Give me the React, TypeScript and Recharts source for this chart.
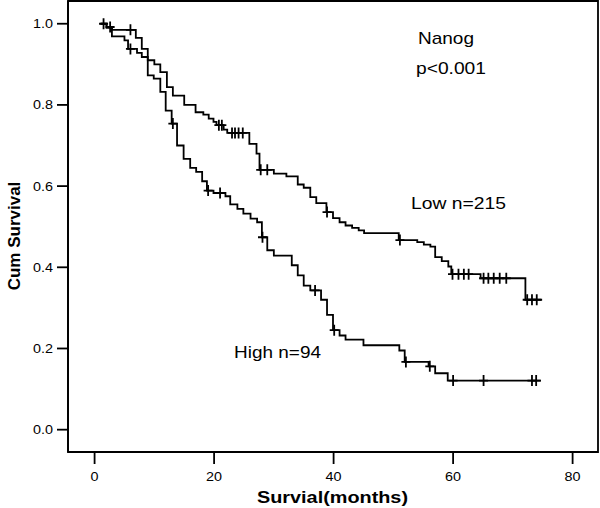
import { LineChart, Line, Scatter, XAxis, YAxis, ReferenceArea, Customized } from "recharts";

// Kaplan-Meier step data (months, cumulative survival)
const lowTimes = [1.0, 2.0, 2.9, 6.9, 7.9, 8.9, 10.0, 11.0, 12.1, 13.1, 15.0, 16.9, 18.2, 19.1, 19.9, 20.4, 21.6, 22.2, 25.9, 27.1, 27.6, 30.0, 32.1, 34.0, 35.0, 36.1, 37.1, 38.8, 39.9, 41.0, 42.0, 43.1, 44.2, 45.1, 50.9, 54.0, 55.1, 56.2, 57.0, 58.1, 59.2, 59.7, 64.6, 72.1, 74.9];
const lowSurv = [1.0, 0.992, 0.985, 0.965, 0.938, 0.91, 0.9, 0.881, 0.844, 0.823, 0.8, 0.782, 0.776, 0.766, 0.758, 0.75, 0.739, 0.731, 0.704, 0.68, 0.64, 0.631, 0.624, 0.604, 0.596, 0.573, 0.558, 0.536, 0.521, 0.511, 0.503, 0.497, 0.491, 0.484, 0.467, 0.462, 0.456, 0.451, 0.425, 0.415, 0.402, 0.383, 0.373, 0.32, 0.32];
const lowCensored = [1.5, 2.6, 6.0, 20.8, 21.3, 23.0, 23.5, 24.1, 24.8, 27.8, 28.9, 38.9, 51.1, 59.9, 60.9, 61.8, 62.6, 65.1, 65.9, 66.8, 67.8, 68.9, 72.4, 73.2, 74.0];

const highTimes = [1.0, 2.0, 2.9, 5.0, 5.6, 7.1, 7.9, 8.9, 9.9, 11.0, 11.9, 12.9, 13.8, 14.9, 16.0, 17.0, 18.0, 18.8, 19.9, 21.9, 22.7, 23.9, 24.9, 26.1, 27.2, 28.0, 28.9, 30.0, 33.0, 34.0, 35.0, 36.1, 37.9, 38.9, 39.9, 41.0, 42.0, 45.0, 51.0, 51.9, 55.9, 57.0, 59.1, 74.7];
const highSurv = [1.0, 0.99, 0.969, 0.959, 0.938, 0.928, 0.918, 0.873, 0.865, 0.832, 0.786, 0.754, 0.7, 0.667, 0.645, 0.635, 0.612, 0.589, 0.583, 0.575, 0.555, 0.544, 0.532, 0.52, 0.511, 0.474, 0.442, 0.429, 0.405, 0.38, 0.355, 0.343, 0.32, 0.283, 0.245, 0.232, 0.222, 0.208, 0.195, 0.167, 0.156, 0.139, 0.121, 0.121];
const highCensored = [6.0, 13.1, 19.0, 21.0, 28.1, 36.9, 40.1, 52.1, 56.1, 60.0, 65.1, 73.2, 73.9];

const xTicks = [0, 20, 40, 60, 80];
const yTicks = [0, 0.2, 0.4, 0.6, 0.8, 1.0];

const FONT = "Liberation Sans, Arial, Helvetica, sans-serif";

const toSteps = (times: number[], surv: number[]) =>
  times.map((t, i) => ({ t, s: surv[i] }));

const survAt = (times: number[], surv: number[], t: number) => {
  let v = surv[0];
  times.forEach((tt, i) => {
    if (tt <= t) v = surv[i];
  });
  return v;
};

const lowSteps = toSteps(lowTimes, lowSurv);
const highSteps = toSteps(highTimes, highSurv);
const lowMarks = lowCensored.map((t) => ({ t, s: survAt(lowTimes, lowSurv, t) }));
const highMarks = highCensored.map((t) => ({ t, s: survAt(highTimes, highSurv, t) }));

const CensorMark = (props: any) => {
  const { cx, cy } = props;
  return (
    <path
      d={`M${cx},${cy - 5.5}V${cy + 5.5}M${cx - 4.5},${cy}H${cx + 4.5}`}
      stroke="#000"
      strokeWidth={1.8}
      fill="none"
    />
  );
};

const XTick = (props: any) => {
  const { x, y, payload } = props;
  const label = String(payload.value);
  return (
    <text
      x={x}
      y={y}
      dy="0.71em"
      textAnchor="middle"
      fontSize={13}
      fontFamily={FONT}
      fill="#000"
      textLength={label.length * 8}
      lengthAdjust="spacingAndGlyphs"
    >
      {label}
    </text>
  );
};

const YTick = (props: any) => {
  const { x, y, payload } = props;
  return (
    <text
      x={x}
      y={y}
      dy={4.5}
      textAnchor="end"
      fontSize={13}
      fontFamily={FONT}
      fill="#000"
      textLength={20}
      lengthAdjust="spacingAndGlyphs"
    >
      {Number(payload.value).toFixed(1)}
    </text>
  );
};

const Labels = () => (
  <g fontFamily={FONT} fill="#000">
    <text x={418} y={44} fontSize={17} textLength={56} lengthAdjust="spacingAndGlyphs">Nanog</text>
    <text x={416} y={74} fontSize={17} textLength={70} lengthAdjust="spacingAndGlyphs">p&lt;0.001</text>
    <text x={411} y={209} fontSize={17} textLength={95} lengthAdjust="spacingAndGlyphs">Low n=215</text>
    <text x={234} y={358} fontSize={17} textLength={87} lengthAdjust="spacingAndGlyphs">High n=94</text>
    <text x={257} y={503} fontSize={17} fontWeight="bold" textLength={151} lengthAdjust="spacingAndGlyphs">Survial(months)</text>
    <text
      x={0}
      y={0}
      fontSize={17}
      fontWeight="bold"
      textAnchor="middle"
      transform="translate(20,236) rotate(-90)"
    >
      Cum Survival
    </text>
  </g>
);

export default function App() {
  return (
    <div style={{ position: "absolute", left: 0, top: 0, background: "#fff" }}>
      <LineChart width={600} height={508} margin={{ top: 1, right: 2, left: 0, bottom: 0 }}>
        <XAxis
          type="number"
          dataKey="t"
          domain={[-4.45, 84.25]}
          ticks={xTicks}
          allowDataOverflow
          height={56}
          tickSize={12}
          tickMargin={8}
          tick={<XTick />}
          axisLine={{ stroke: "#000", strokeWidth: 1.8 }}
          tickLine={{ stroke: "#000", strokeWidth: 1.8 }}
        />
        <YAxis
          type="number"
          dataKey="s"
          domain={[-0.055, 1.056]}
          ticks={yTicks}
          allowDataOverflow
          width={68}
          tickSize={11}
          tickMargin={4}
          tick={<YTick />}
          axisLine={{ stroke: "#000", strokeWidth: 1.8 }}
          tickLine={{ stroke: "#000", strokeWidth: 1.8 }}
        />
        <ReferenceArea
          x1={-4.45}
          x2={84.25}
          y1={-0.055}
          y2={1.056}
          fill="none"
          stroke="#000"
          strokeWidth={1.8}
          ifOverflow="visible"
        />
        <Line
          data={lowSteps}
          dataKey="s"
          type="stepAfter"
          stroke="#000"
          strokeWidth={1.8}
          dot={false}
          isAnimationActive={false}
        />
        <Line
          data={highSteps}
          dataKey="s"
          type="stepAfter"
          stroke="#000"
          strokeWidth={1.8}
          dot={false}
          isAnimationActive={false}
        />
        <Scatter data={lowMarks} dataKey="s" shape={<CensorMark />} isAnimationActive={false} />
        <Scatter data={highMarks} dataKey="s" shape={<CensorMark />} isAnimationActive={false} />
        <Customized component={<Labels />} />
      </LineChart>
    </div>
  );
}
